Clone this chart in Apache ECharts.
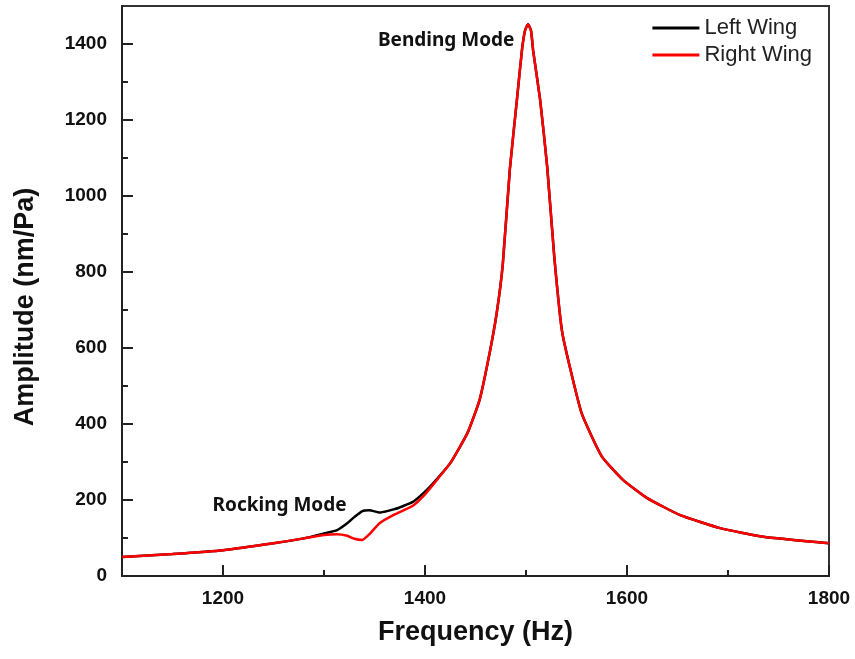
<!DOCTYPE html>
<html>
<head>
<meta charset="utf-8">
<script src="https://cdn.jsdelivr.net/npm/echarts@6/dist/echarts.min.js"></script>
<style>
  html, body { margin: 0; padding: 0; background: #fff; }
  #chart { width: 855px; height: 659px; }
</style>
</head>
<body>
<div id="chart"></div>
<script>
// frequency (Hz) and amplitude (nm/Pa)
const freq = [1100, 1150, 1200, 1250, 1280, 1300, 1313, 1323, 1330, 1338, 1345, 1355, 1370, 1388, 1400, 1410, 1425, 1442, 1454, 1464, 1471, 1477, 1484, 1491, 1496, 1499, 1502, 1505, 1507, 1514, 1521, 1528, 1536, 1555, 1575, 1596, 1620, 1652, 1692, 1735, 1800]
const leftWing = [50, 58, 68, 86, 99, 112, 121, 139, 155, 171, 173, 167, 176, 195, 222, 250, 297, 376, 463, 587, 692, 820, 1070, 1253, 1384, 1435, 1452, 1435, 1384, 1253, 1076, 840, 639, 429, 315, 253, 205, 161, 126, 103, 86]
const rightWing = [50, 58, 68, 86, 99, 108, 110, 106, 98, 95, 110, 139, 162, 185, 215, 247, 297, 376, 463, 587, 692, 820, 1070, 1253, 1384, 1435, 1452, 1435, 1384, 1253, 1076, 840, 639, 429, 315, 253, 205, 161, 126, 103, 86]

const xMajor = [1200, 1400, 1600, 1800]
const xMinor = [1300, 1500, 1700]
const yMajor = [0, 200, 400, 600, 800, 1000, 1200, 1400]
const yMinor = [100, 300, 500, 700, 900, 1100, 1300]

// annotation labels: [text, freq, amplitude]
const notes = [
  ["Bending Mode", 1421, 1410],
  ["Rocking Mode", 1256, 184]
]

const toPairs = (ys) => freq.map((f, i) => [f, ys[i]])

const chart = echarts.init(document.getElementById("chart"))

const axisFont = { fontFamily: "Liberation Sans", fontWeight: "bold", fontSize: 19, color: "#111" }
const nameFont = { fontFamily: "Liberation Sans", fontWeight: "bold", fontSize: 27, color: "#111" }
const plain = (v) => String(v)

const option = {
  animation: false,
  backgroundColor: "#fff",
  grid: {
    left: 122, right: 26, top: 6, bottom: 83,
    show: true, borderColor: "#333", borderWidth: 2, backgroundColor: "transparent"
  },
  legend: {
    orient: "vertical",
    right: 38, top: 12,
    itemWidth: 47, itemHeight: 12, itemGap: 5,
    textStyle: { fontFamily: "Liberation Sans", fontSize: 22, color: "#222" },
    data: [
      { name: "Left Wing", icon: "path://M0,0 L45,0 L45,3 L0,3 Z" },
      { name: "Right Wing", icon: "path://M0,0 L45,0 L45,3 L0,3 Z" }
    ]
  },
  xAxis: [
    {
      type: "value", min: 1100, max: 1800,
      name: "Frequency (Hz)", nameLocation: "middle", nameGap: 43, nameTextStyle: nameFont,
      axisLine: { show: true, lineStyle: { color: "#222", width: 2 } },
      axisTick: { inside: true, length: 11, lineStyle: { color: "#222", width: 2 }, customValues: xMajor },
      axisLabel: Object.assign({ margin: 13, customValues: xMajor, formatter: plain }, axisFont),
      splitLine: { show: false }
    },
    {
      type: "value", min: 1100, max: 1800, position: "bottom",
      axisLine: { show: false },
      axisTick: { show: true, inside: true, length: 6, lineStyle: { color: "#222", width: 2 }, customValues: xMinor },
      axisLabel: { show: false },
      splitLine: { show: false }
    }
  ],
  yAxis: [
    {
      type: "value", min: 0, max: 1500,
      name: "Amplitude (nm/Pa)", nameLocation: "middle", nameGap: 83,
      nameTextStyle: Object.assign({ padding: [0, 32, 0, 0] }, nameFont),
      axisLine: { show: true, lineStyle: { color: "#222", width: 2 } },
      axisTick: { show: true, inside: true, length: 11, lineStyle: { color: "#222", width: 2 }, customValues: yMajor },
      axisLabel: Object.assign({ margin: 15, customValues: yMajor, formatter: plain }, axisFont),
      splitLine: { show: false }
    },
    {
      type: "value", min: 0, max: 1500, position: "left",
      axisLine: { show: false },
      axisTick: { show: true, inside: true, length: 6, lineStyle: { color: "#222", width: 2 }, customValues: yMinor },
      axisLabel: { show: false },
      splitLine: { show: false }
    }
  ],
  series: [
    {
      name: "Left Wing", type: "line", data: toPairs(leftWing),
      showSymbol: false, smooth: 0.15, color: "#000",
      lineStyle: { width: 2.5, color: "#000" }
    },
    {
      name: "Right Wing", type: "line", data: toPairs(rightWing),
      showSymbol: false, smooth: 0.15, color: "#ff0000",
      lineStyle: { width: 2.5, color: "#ff0000" },
      markPoint: {
        symbolSize: 0,
        label: {
          show: true, position: "inside",
          fontFamily: "Noto Sans", fontWeight: "bold", fontSize: 19, color: "#111",
          formatter: (p) => p.name
        },
        data: notes.map((n) => ({ name: n[0], coord: [n[1], n[2]] }))
      }
    }
  ]
}

chart.setOption(option)
</script>
</body>
</html>
